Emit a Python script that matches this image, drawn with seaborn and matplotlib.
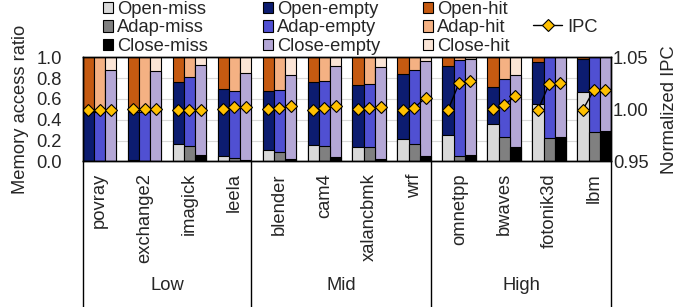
import numpy as np
import pandas as pd
import matplotlib
matplotlib.use("Agg")
import matplotlib.pyplot as plt
from matplotlib.patches import Patch
from matplotlib.lines import Line2D
import matplotlib.transforms as mtransforms
import seaborn as sns

# ---------------- data ----------------
benchmarks = ['povray', 'exchange2', 'imagick', 'leela', 'blender', 'cam4',
              'xalancbmk', 'wrf', 'omnetpp', 'bwaves', 'fotonik3d', 'lbm']
groups = ['Low', 'Mid', 'High']
group_sizes = [4, 4, 4]

open_miss = [0.0, 0.01, 0.17, 0.05, 0.105, 0.155, 0.14, 0.215, 0.255, 0.355, 0.55, 0.665]
open_empty = [0.477, 0.467, 0.595, 0.642, 0.571, 0.605, 0.597, 0.622, 0.664, 0.355, 0.405, 0.32]
open_hit = [0.523, 0.523, 0.235, 0.308, 0.324, 0.24, 0.263, 0.163, 0.081, 0.29, 0.045, 0.015]

adap_miss = [0.0, 0.0, 0.15, 0.035, 0.09, 0.145, 0.135, 0.17, 0.05, 0.235, 0.22, 0.28]
adap_empty = [0.477, 0.477, 0.657, 0.645, 0.593, 0.627, 0.605, 0.705, 0.925, 0.553, 0.78, 0.72]
adap_hit = [0.523, 0.523, 0.193, 0.32, 0.317, 0.228, 0.26, 0.125, 0.025, 0.212, 0.0, 0.0]

close_miss = [0.0, 0.0, 0.065, 0.01, 0.02, 0.04, 0.02, 0.05, 0.06, 0.14, 0.23, 0.29]
close_empty = [0.878, 0.87, 0.858, 0.842, 0.813, 0.876, 0.89, 0.915, 0.92, 0.693, 0.77, 0.71]
close_hit = [0.122, 0.13, 0.077, 0.148, 0.167, 0.084, 0.09, 0.035, 0.02, 0.167, 0.0, 0.0]

ipc_open = [0.9993, 1.0, 0.9995, 1.0003, 1.0003, 0.9996, 1.0, 0.9996, 0.9993, 1.0, 0.9993, 0.9996]
ipc_adap = [0.9993, 1.0, 0.9995, 1.0025, 1.0009, 1.001, 1.001, 1.0015, 1.0256, 1.004, 1.0243, 1.019]
ipc_close = [0.999, 1.0, 0.999, 1.002, 1.003, 1.003, 1.002, 1.011, 1.0272, 1.013, 1.025, 1.019]

modes = ['Open', 'Adap', 'Close']
segments = ['miss', 'empty', 'hit']
values = {
    ('Open', 'miss'): open_miss, ('Open', 'empty'): open_empty, ('Open', 'hit'): open_hit,
    ('Adap', 'miss'): adap_miss, ('Adap', 'empty'): adap_empty, ('Adap', 'hit'): adap_hit,
    ('Close', 'miss'): close_miss, ('Close', 'empty'): close_empty, ('Close', 'hit'): close_hit,
}
ipc = {'Open': ipc_open, 'Adap': ipc_adap, 'Close': ipc_close}

colors = {
    'Open-miss': '#D9D9D9', 'Adap-miss': '#808080', 'Close-miss': '#000000',
    'Open-empty': '#0C1C70', 'Adap-empty': '#5050D2', 'Close-empty': '#B4A7D6',
    'Open-hit': '#C55A11', 'Adap-hit': '#F4B183', 'Close-hit': '#FBE5D6',
}
ipc_color = '#FFC000'

# ---------------- tidy tables ----------------
rows = []
ipc_rows = []
for i, b in enumerate(benchmarks):
    for j, m in enumerate(modes):
        pos = 4 * i + j
        cum = 0.0
        for s in segments:
            cum += values[(m, s)][i]
            rows.append({'pos': pos, 'top': cum, 'series': f'{m}-{s}'})
        ipc_rows.append({'pos': pos, 'ipc': ipc[m][i], 'bench': b})
df = pd.DataFrame(rows)
df_ipc = pd.DataFrame(ipc_rows)

# draw order: hit (full stack) first, then empty, then miss on top
hue_order = [f'{m}-{s}' for s in ['hit', 'empty', 'miss'] for m in modes]

# ---------------- figure ----------------
sns.set_theme(style='white')
plt.rcParams['font.family'] = ['Liberation Sans', 'DejaVu Sans']
FS = 13.2

W, H = 699, 307
fig = plt.figure(figsize=(W / 100, H / 100), dpi=100)
L, R, T, B = 82.7, 611, 57.3, 161.3
ax = fig.add_axes([L / W, 1 - B / H, (R - L) / W, (B - T) / H])

sns.barplot(data=df, x='pos', y='top', hue='series', hue_order=hue_order,
            palette=colors, native_scale=True, dodge=False, width=1,
            saturation=1, errorbar=None, legend=False,
            edgecolor='black', linewidth=0.8, ax=ax)

ax.set_xlim(-0.5, 4 * len(benchmarks) - 1.5)
ax.set_ylim(0, 1.0)
ax.set_yticks(np.arange(0, 1.01, 0.2))
ax.set_yticklabels([f'{v:.1f}' for v in np.arange(0, 1.01, 0.2)], fontsize=FS)
ax.set_axisbelow(True)
ax.yaxis.grid(True, color='#D9D9D9', linewidth=0.8)
ax.set_xticks([4 * i + 1 for i in range(len(benchmarks))])
ax.set_xticklabels(benchmarks, rotation=90, fontsize=FS)
ax.tick_params(axis='x', length=0, pad=8.5)
ax.tick_params(axis='y', length=0, pad=15)
ax.set_xlabel('')
ax.set_ylabel('Memory access ratio', fontsize=FS, labelpad=5)
for sp in ax.spines.values():
    sp.set_color('black')
    sp.set_linewidth(1.0)

ax2 = ax.twinx()
sns.lineplot(data=df_ipc, x='pos', y='ipc', units='bench', estimator=None,
             color='black', linewidth=1.0, marker='D', markersize=6,
             markerfacecolor=ipc_color, markeredgecolor='black',
             markeredgewidth=0.8, legend=False, ax=ax2)
ax2.set_ylim(0.95, 1.05)
ax2.set_yticks([0.95, 1.0, 1.05])
ax2.set_yticklabels(['0.95', '1.00', '1.05'], fontsize=FS)
ax2.tick_params(axis='y', length=0, pad=1.5)
ax2.set_ylabel('Normalized IPC', fontsize=FS, labelpad=9)
ax2.set_xlabel('')
for sp in ax2.spines.values():
    sp.set_color('black')
    sp.set_linewidth(1.0)

# ---------------- group table below ----------------
trans = mtransforms.blended_transform_factory(ax.transData, ax.transAxes)
n_slots = 4 * len(benchmarks) - 1
bounds = [-0.5]
edge = -0.5
for n in group_sizes:
    edge = edge + 4 * n
    bounds.append(edge - 1)
for xb in bounds:
    ax.plot([xb, xb], [0, -1.5], color='black', lw=1.0, transform=trans, clip_on=False)
for g, a, b in zip(groups, bounds[:-1], bounds[1:]):
    ax.text((a + b) / 2, -1.19, g, transform=trans, ha='center', va='center', fontsize=FS)

# ---------------- legend ----------------
def patch(name):
    return Patch(facecolor=colors[name], edgecolor='black', linewidth=0.8, label=name)

leg_kw = dict(frameon=False, fontsize=FS, handlelength=0.55, handleheight=0.55,
              handletextpad=0.22, labelspacing=0.08, borderpad=0, borderaxespad=0,
              loc='upper left')
cols = [['Open-miss', 'Adap-miss', 'Close-miss'],
        ['Open-empty', 'Adap-empty', 'Close-empty'],
        ['Open-hit', 'Adap-hit', 'Close-hit']]
xs = [103, 263, 423]
for names, x0 in zip(cols, xs):
    fig.legend(handles=[patch(n) for n in names], bbox_to_anchor=(x0 / W, 1 - 1 / H), **leg_kw)
ipc_handle = Line2D([], [], color='black', lw=1.0, marker='D', markersize=6,
                    markerfacecolor=ipc_color, markeredgecolor='black', markeredgewidth=0.8, label='IPC')
fig.legend(handles=[ipc_handle], bbox_to_anchor=(533 / W, 1 - 18.5 / H), frameon=False, fontsize=FS,
           handlelength=1.6, handletextpad=0.25, borderpad=0, borderaxespad=0, loc='upper left')

fig.savefig('out.png', dpi=100)
